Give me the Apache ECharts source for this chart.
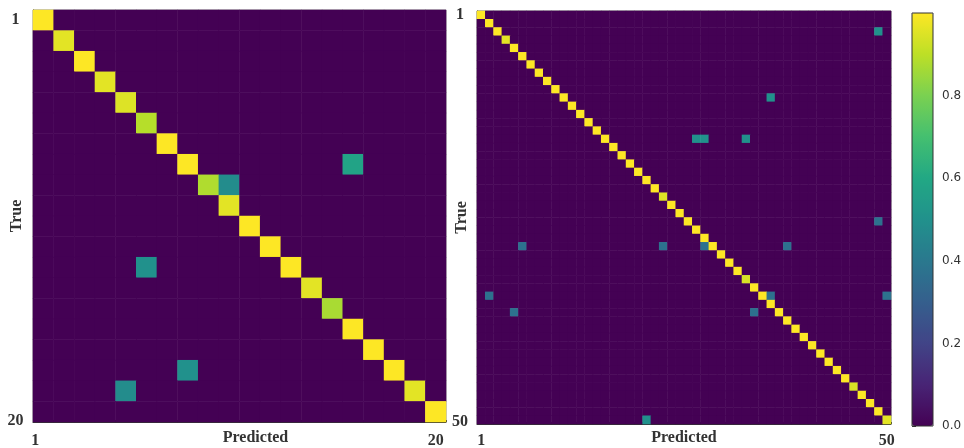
<!DOCTYPE html>
<html><head><meta charset="utf-8">
<script src="https://cdn.jsdelivr.net/npm/echarts@6/dist/echarts.min.js"></script>
<style>html,body{margin:0;padding:0;background:#fff}#c{width:964px;height:448px}</style>
</head><body><div id="c"></div>
<script>
// ---- data ----
const leftSize = 20;
const leftDiag = [1.0, 0.96, 1.0, 0.96, 0.95, 0.89, 1.0, 1.0, 0.88, 0.96,
                  1.0, 1.0, 1.0, 0.96, 0.87, 1.0, 1.0, 1.0, 0.96, 1.0];
// [row, col, value]
const leftOff = [[7, 15, 0.58], [8, 9, 0.48], [12, 5, 0.5], [17, 7, 0.5], [18, 4, 0.48]];

const rightSize = 50;
const rightDiag = [1.0, 1.0, 1.0, 0.96, 1.0, 1.0, 1.0, 1.0, 1.0, 1.0,
                   1.0, 1.0, 1.0, 1.0, 1.0, 1.0, 1.0, 1.0, 1.0, 1.0,
                   1.0, 1.0, 0.95, 1.0, 1.0, 1.0, 1.0, 1.0, 1.0, 1.0,
                   1.0, 1.0, 0.94, 1.0, 1.0, 1.0, 1.0, 1.0, 1.0, 1.0,
                   1.0, 1.0, 1.0, 1.0, 1.0, 0.94, 1.0, 1.0, 1.0, 0.96];
const rightOff = [[2, 48, 0.5], [10, 35, 0.5], [15, 26, 0.5], [15, 27, 0.5], [15, 32, 0.5],
                  [25, 48, 0.37], [28, 5, 0.37], [28, 22, 0.37], [28, 27, 0.37], [28, 37, 0.37],
                  [34, 1, 0.37], [34, 35, 0.37], [34, 49, 0.37], [36, 4, 0.37], [36, 33, 0.37],
                  [49, 20, 0.5]];
const xTitle = 'Predicted';
const yTitle = 'True';
const colorbarTicks = [0, 0.2, 0.4, 0.6, 0.8];
const viridis = ['#440154', '#482475', '#414487', '#355f8d', '#2a788e', '#21918c',
                 '#22a884', '#44bf70', '#7ad151', '#bddf26', '#fde725'];

// ---- build ----
function cats(n) { return Array.from({length: n}, (_, i) => String(i + 1)); }
function matrix(n, diag, off) {
  const m = new Map(off.map(d => [d[0] + ',' + d[1], d[2]]));
  const out = [];
  for (let r = 0; r < n; r++) for (let c = 0; c < n; c++) {
    const v = r === c ? diag[r] : (m.get(r + ',' + c) || 0);
    out.push([c, r, v]);
  }
  return out;
}
const serif = {fontFamily: 'Liberation Serif', fontWeight: 'bold', fontSize: 16, color: '#333'};

function xAx(gi, n, margin, nameGap, namePad, firstPad) {
  return {
    type: 'category', gridIndex: gi, data: cats(n), position: 'bottom',
    axisLine: {show: true, lineStyle: {color: '#333', width: 1}},
    axisTick: {show: true, inside: true, length: 2, interval: 0, lineStyle: {color: '#333'}},
    axisLabel: {
      interval: (i) => i === 0 || i === n - 1, margin: margin,
      formatter: (v, i) => i === 0 ? '{f|' + v + '}' : '{l|' + v + '}',
      rich: {f: Object.assign({}, serif, {padding: [0, firstPad, 0, 0]}), l: Object.assign({}, serif)}
    },
    splitLine: {show: false},
    name: xTitle, nameLocation: 'middle', nameGap: nameGap, nameMoveOverlap: false,
    nameTextStyle: Object.assign({}, serif, {padding: [0, 0, 0, namePad]})
  };
}
function yAx(gi, n, margin, nameGap, lastPad) {
  return {
    type: 'category', gridIndex: gi, data: cats(n), inverse: true,
    axisLine: {show: true, lineStyle: {color: '#333', width: 1}},
    axisTick: {show: false},
    axisLabel: {
      interval: (i) => i === 0 || i === n - 1, margin: margin, align: 'center',
      formatter: (v, i) => i === n - 1 ? '{l|' + v + '}' : '{f|' + v + '}',
      rich: {f: Object.assign({}, serif), l: Object.assign({}, serif, {padding: [lastPad, 0, 0, 0]})}
    },
    splitLine: {show: false},
    name: yTitle, nameLocation: 'middle', nameGap: nameGap, nameMoveOverlap: false,
    nameTextStyle: Object.assign({}, serif)
  };
}

const chart = echarts.init(document.getElementById('c'), null, {renderer: 'canvas'});
chart.setOption({
  animation: false,
  backgroundColor: '#fff',
  grid: [
    {left: 33, top: 10, width: 413, height: 412, outerBoundsMode: 'none', containLabel: false,
     show: true, backgroundColor: 'transparent', borderColor: '#888', borderWidth: 1},
    {left: 477, top: 11, width: 414, height: 413, outerBoundsMode: 'none', containLabel: false,
     show: true, backgroundColor: 'transparent', borderColor: '#666', borderWidth: 1},
    {left: 912, top: 13, width: 21, height: 413, outerBoundsMode: 'none', containLabel: false,
     show: true, backgroundColor: 'transparent', borderColor: '#333', borderWidth: 1, z: 10}
  ],
  xAxis: [
    xAx(0, leftSize, 11, 8, 32, 16),
    xAx(1, rightSize, 9, 6, 0, 0),
    {type: 'value', gridIndex: 2, show: false, min: 0, max: 1}
  ],
  yAxis: [
    yAx(0, leftSize, 17.5, 8, 18),
    yAx(1, rightSize, 17, 7, 4),
    {type: 'value', gridIndex: 2, min: 0, max: 1, position: 'right',
     axisLine: {show: false},
     axisTick: {show: true, length: 4, customValues: colorbarTicks, lineStyle: {color: '#333'}},
     axisLabel: {customValues: colorbarTicks, formatter: (v) => v.toFixed(1), margin: 9,
                 fontFamily: 'DejaVu Sans', fontSize: 12, color: '#333'},
     splitLine: {show: false}}
  ],
  visualMap: {
    type: 'continuous', min: 0, max: 1, seriesIndex: [0, 1],
    left: 912, top: 13, itemWidth: 21, itemHeight: 413, padding: 0,
    calculable: false, orient: 'vertical', inRange: {color: viridis}
  },
  series: [
    {type: 'heatmap', xAxisIndex: 0, yAxisIndex: 0, data: matrix(leftSize, leftDiag, leftOff)},
    {type: 'heatmap', xAxisIndex: 1, yAxisIndex: 1, data: matrix(rightSize, rightDiag, rightOff)}
  ]
});
</script>
</body></html>
